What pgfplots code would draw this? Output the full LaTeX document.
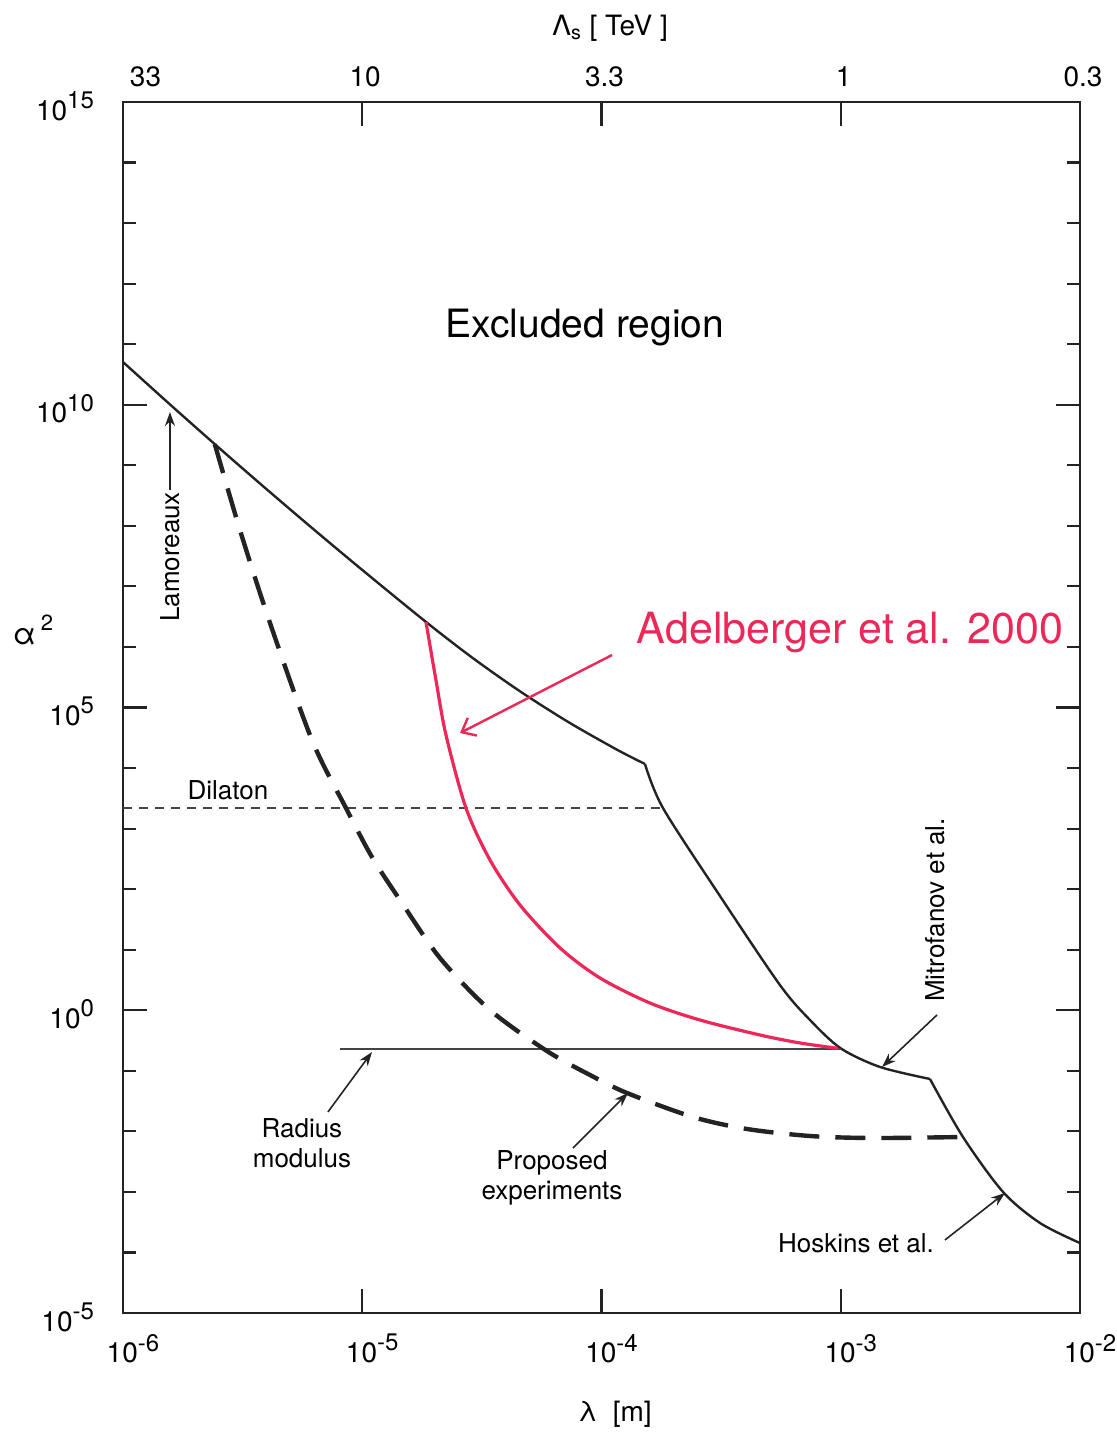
\documentclass[border=0pt]{standalone}
\usepackage{fontspec}
\setmainfont{TeX Gyre Heros}
\usepackage{pgfplots}
\pgfplotsset{compat=1.18}
\usetikzlibrary{arrows.meta}
\definecolor{ink}{RGB}{35,35,35}
\definecolor{adel}{RGB}{236,40,88}
\newcommand{\tp}[1]{10\raisebox{0.42em}{\fontsize{12}{12}\selectfont #1}}
\newcommand{\ann}{\fontsize{13}{15}\selectfont}
\begin{document}
\begin{tikzpicture}
\path[use as bounding box] (-61.5pt,-61pt) rectangle (496.5pt,656.5pt);
% top axis (Lambda_s)
\begin{axis}[
  at={(0,0)}, anchor=south west,
  scale only axis, width=478.5pt, height=605.5pt,
  xmode=log, xmin=1e-6, xmax=1e-2, ymin=0, ymax=1,
  axis x line*=top, axis y line=none,
  axis line style={line width=1.2pt, ink},
  xtick={1e-6,1e-5,1e-4,1e-3,1e-2},
  xticklabels={\makebox[0pt][l]{\hspace{2pt}33},10,3.3,1,0.3},
  xminorticks=false,
  tick align=inside, major tick length=12pt,
  every major tick/.style={line width=1.1pt, ink},
  xticklabel style={font=\fontsize{14}{16}\selectfont, yshift=4pt, xshift=1.5pt},
  xlabel={Λ\textsubscript{s} [ TeV ]},
  xlabel style={font=\fontsize{14}{16}\selectfont, at={(axis description cs:0.509,1.061)}, anchor=center},
]
\addplot[draw=none] coordinates {(1e-6,0) (1e-2,1)};
\end{axis}
% main axis
\begin{axis}[
  at={(0,0)}, anchor=south west,
  scale only axis, width=478.5pt, height=605.5pt,
  xmode=log, ymode=log,
  xmin=1e-6, xmax=1e-2, ymin=1e-5, ymax=1e15,
  axis line style={line width=1.3pt, ink},
  xtick={1e-6,1e-5,1e-4,1e-3,1e-2},
  xticklabels={\tp{-6},\tp{-5},\tp{-4},\tp{-3},\tp{-2}},
  xtick pos=left,
  xminorticks=false,
  ytick={1e-5,1,1e5,1e10,1e15},
  yticklabels={\tp{-5},\tp{0},\tp{5},\tp{10},\tp{15}},
  minor ytick={1e-4,1e-3,1e-2,1e-1,1e1,1e2,1e3,1e4,1e6,1e7,1e8,1e9,1e11,1e12,1e13,1e14},
  ytick pos=both,
  tick align=inside,
  major tick length=12pt, minor tick length=6.5pt,
  every major tick/.style={line width=1.1pt, ink},
  every minor tick/.style={line width=1.1pt, ink},
  xticklabel style={font=\fontsize{14}{16}\selectfont, yshift=-7pt, xshift=5pt},
  yticklabel style={font=\fontsize{14}{16}\selectfont, xshift=-11pt, yshift=-2pt},
  xlabel={λ~~[m]},
  xlabel style={font=\fontsize{14}{16}\selectfont, at={(axis description cs:0.514,-0.084)}, anchor=center},
  ylabel={α\,\raisebox{0.45em}{\fontsize{11}{12}\selectfont 2}},
  ylabel style={font=\fontsize{15}{16}\selectfont, at={(axis description cs:-0.094,0.564)}, anchor=center, rotate=-90},
  clip=false,
]
% Lamoreaux
\addplot[ink, line width=1.2pt, smooth, line join=round] coordinates {
(1e-6,5.08e10) (1.585e-6,9.83e9) (2.512e-6,1.961e9) (3.981e-6,4.034e8) (6.310e-6,8.55e7)
(1e-5,1.871e7) (1.847e-5,2.588e6) (2.927e-5,6.37e5) (4.639e-5,1.774e5) (7.352e-5,5.6e4)
(1.165e-4,1.995e4) (1.52e-4,1.167e4)};
% Mitrofanov
\addplot[ink, line width=1.2pt, smooth, line join=round] coordinates {
(1.52e-4,1.167e4) (1.807e-4,2188) (3.128e-4,77.1) (5.57e-4,2.61) (7.44e-4,0.69)
(1e-3,0.235) (1.46e-3,0.1156) (2.36e-3,0.0733)};
% Hoskins
\addplot[ink, line width=1.2pt, smooth, line join=round] coordinates {
(2.36e-3,0.0733) (3.243e-3,8.07e-3) (4.77e-3,9.96e-4) (6.81e-3,3.06e-4) (1e-2,1.43e-4)};
% Dilaton
\addplot[ink!85, line width=0.9pt, dash pattern=on 4.5pt off 3.5pt] coordinates {(1e-6,2188) (1.807e-4,2188)};
% Radius modulus
\addplot[ink!85, line width=0.9pt] coordinates {(8.07e-6,0.23) (1e-3,0.23)};
% Proposed experiments
\addplot[ink, line width=2.2pt, smooth, dash pattern=on 15pt off 8pt] coordinates {
(2.42e-6,2.23e9) (3.083e-6,8.53e7) (4.116e-6,2.49e6) (6.166e-6,2.9e4) (8.55e-6,2188) (1.098e-5,340)
(1.438e-5,66.2) (2.113e-5,7.3) (3.42e-5,1.01) (5.92e-5,0.212) (8.95e-5,0.0853) (1.278e-4,0.043)
(2.412e-4,0.01726) (4.057e-4,0.01094) (7.44e-4,8.38e-3) (1.364e-3,7.76e-3) (3.243e-3,8.07e-3)};
% Adelberger 2000
\addplot[adel, line width=1.6pt, smooth] coordinates {
(1.847e-5,2.588e6) (2.033e-5,2.84e5) (2.239e-5,3.52e4) (2.714e-5,2188) (3.42e-5,303) (4.565e-5,54.7)
(6.71e-5,10.7) (9.86e-5,3.41) (1.594e-4,1.318) (2.58e-4,0.69) (4.6e-4,0.39) (6.755e-4,0.288) (9.74e-4,0.235)};

% annotations
\node[font=\fontsize{19.5}{22}\selectfont] at (axis cs:8.53e-5,1.85e11) {Excluded region};
\node[font=\ann, rotate=90] at (axis cs:1.572e-6,3.06e7) {Lamoreaux};
\draw[ink, line width=0.8pt, -{Stealth[length=7pt,width=5pt]}] (axis cs:1.572e-6,3.9e8) -- (axis cs:1.572e-6,7.59e9);
\node[font=\fontsize{21.5}{24}\selectfont, text=adel] at (axis cs:1.093e-3,1.70e6) {Adelberger et al. 2000};
\draw[adel, line width=1.2pt, -{Straight Barb[length=6pt,width=10pt]}] (axis cs:1.107e-4,7.36e5) -- (axis cs:2.563e-5,3.79e4);
\node[font=\ann] at (axis cs:2.747e-6,4345) {Dilaton};
\node[font=\ann, rotate=90] at (axis cs:2.477e-3,45.3) {Mitrofanov et al.};
\draw[ink, line width=0.8pt, -{Stealth[length=7pt,width=5pt]}] (axis cs:2.525e-3,0.836) -- (axis cs:1.488e-3,0.1156);
\node[font=\ann, align=center] at (axis cs:5.6e-6,6.43e-3) {Radius\\modulus};
\draw[ink, line width=0.8pt, -{Stealth[length=7pt,width=5pt]}] (axis cs:7.19e-6,0.0209) -- (axis cs:1.098e-5,0.204);
\node[font=\ann, align=center] at (axis cs:6.21e-5,1.70e-3) {Proposed\\experiments};
\draw[ink, line width=0.8pt, -{Stealth[length=7pt,width=5pt]}] (axis cs:7.6e-5,5.3e-3) -- (axis cs:1.29e-4,0.043);
\node[font=\ann] at (axis cs:1.158e-3,1.43e-4) {Hoskins et al.};
\draw[ink, line width=0.8pt, -{Stealth[length=7pt,width=5pt]}] (axis cs:2.727e-3,1.61e-4) -- (axis cs:4.86e-3,9.6e-4);
\end{axis}
\end{tikzpicture}
\end{document}
